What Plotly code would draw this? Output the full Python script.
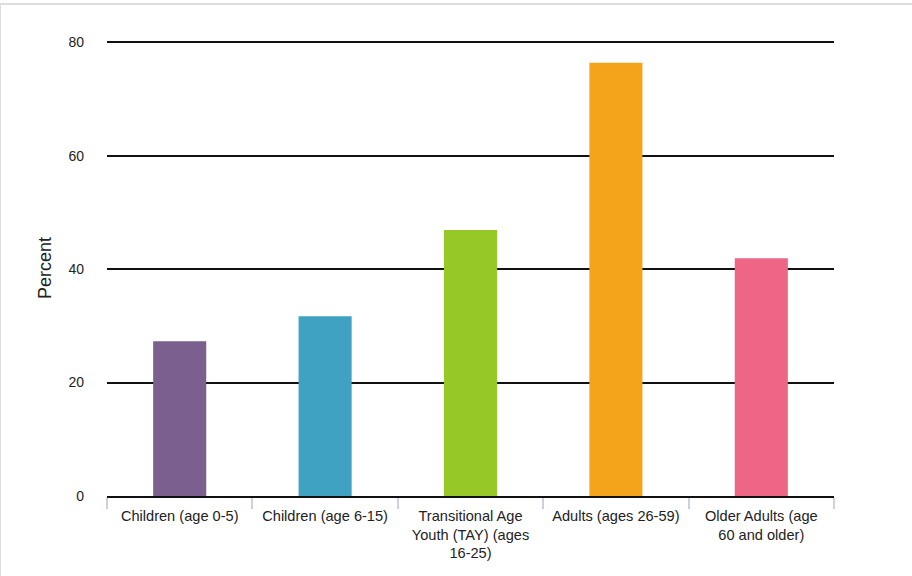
import plotly.graph_objects as go

categories = [
    "Children (age 0-5)",
    "Children (age 6-15)",
    "Transitional Age<br>Youth (TAY) (ages<br>16-25)",
    "Adults (ages 26-59)",
    "Older Adults (age<br>60 and older)",
]
values = [27.3, 31.7, 46.9, 76.4, 41.9]
colors = ["#7b5f8f", "#40a2c2", "#96c928", "#f4a41a", "#ef6586"]
y_ticks = [0, 20, 40, 60, 80]

fig = go.Figure()
fig.add_trace(go.Bar(
    x=categories,
    y=values,
    marker=dict(color=colors, line=dict(width=0)),
    hoverinfo="skip",
))

font_family = "Liberation Sans, Arial, sans-serif"

top_m = 40
plot_h = 576 - top_m - 80

fig.update_layout(
    width=912,
    height=576,
    margin=dict(l=107, r=78, t=top_m, b=80),
    paper_bgcolor="white",
    plot_bgcolor="white",
    bargap=0.635,
    showlegend=False,
    font=dict(family=font_family, size=14, color="#222222"),
    xaxis=dict(
        type="category",
        showgrid=False,
        showline=True,
        linecolor="#111111",
        linewidth=2,
        ticks="outside",
        tickson="boundaries",
        ticklen=11,
        tickcolor="#c9d1e3",
        tickwidth=1.5,
        ticklabelstandoff=5,
        tickfont=dict(family=font_family, size=14.6, color="#222222"),
        fixedrange=True,
    ),
    yaxis=dict(
        range=[0, 80.4],
        tickvals=y_ticks,
        ticktext=[str(v) for v in y_ticks],
        showgrid=True,
        gridcolor="#111111",
        gridwidth=1.5,
        zeroline=False,
        showline=False,
        ticks="",
        ticklabelstandoff=22,
        tickfont=dict(family=font_family, size=14, color="#222222"),
        title=dict(text="Percent", font=dict(family=font_family, size=18, color="#222222"), standoff=12),
        fixedrange=True,
    ),
    shapes=[
        dict(type="line", xref="paper", yref="paper", x0=-107/727, x1=-107/727, y0=-80/plot_h, y1=(plot_h+top_m-4)/plot_h,
             line=dict(color="#dddddd", width=2)),
        dict(type="line", xref="paper", yref="paper", x0=-107/727, x1=(727+78)/727, y0=(plot_h+top_m-4)/plot_h, y1=(plot_h+top_m-4)/plot_h,
             line=dict(color="#dddddd", width=2)),
    ],
)

fig.write_html("out.html")
